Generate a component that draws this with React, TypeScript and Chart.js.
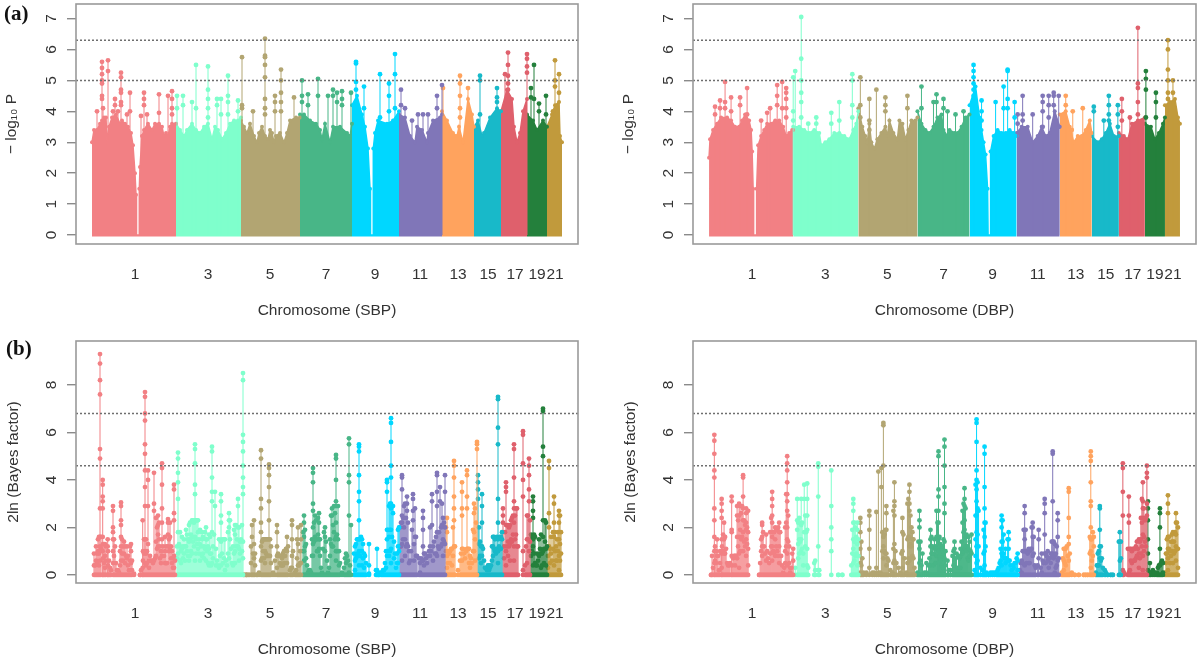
import React, { useEffect, useRef } from "react";
import { Chart, registerables } from "chart.js";

Chart.register(...registerables);

const chromColors = ["#F28084", "#7FFFCC", "#B2A572", "#48B687", "#00D7FF", "#8076B8", "#FFA35E", "#18B9C9", "#DF606C", "#24803C", "#C19A3C"];
const tickValues = [43, 116, 178, 234, 283, 328, 366, 396, 423, 445, 463];
const tickLabels = ["1", "3", "5", "7", "9", "11", "13", "15", "17", "19", "21"];
const pTicks = [0, 1, 2, 3, 4, 5, 6, 7];
const bfTicks = [0, 2, 4, 6, 8];
const pThresholds = [6.3, 5];
const bfThresholds = [6.8, 4.6];

const sbpPEnvelope = [
  [[0,3.0],[2,3.4],[5,3.4],[8,3.6],[10,3.7],[12,3.8],[14,3.8],[15,3.0],[17,3.5],[20,3.8],[24,3.9],[28,3.6],[30,3.7],[33,3.6],[36,3.5],[39,3.3],[41,2.9],[43,2.0],[44,1.3],[44.5,0],[47,0],[47.3,1.5],[48,2.2],[50,3.2],[52,3.4],[56,3.6],[60,3.4],[63,3.6],[67,3.6],[70,3.5],[72,3.2],[74,3.3],[76,3.2],[78,3.5],[80,3.6],[84,3.6]],
  [[84,3.6],[88,3.4],[92,3.2],[95,3.4],[100,3.6],[104,3.4],[108,3.3],[112,3.5],[116,3.6],[120,3.1],[123,3.5],[126,3.4],[130,3.1],[134,3.3],[138,3.6],[142,3.7],[146,3.7],[149,3.8]],
  [[149,3.7],[152,3.5],[155,3.3],[158,3.6],[162,3.2],[165,3.0],[167,3.3],[170,3.5],[173,3.2],[176,3.1],[178,3.4],[180,3.3],[182,3.0],[184,3.2],[188,3.3],[192,3.0],[195,3.3],[198,3.7],[204,3.8],[208,3.8]],
  [[208,3.9],[212,3.9],[218,3.7],[224,3.6],[228,3.4],[230,3.1],[233,3.6],[238,3.0],[241,3.5],[248,3.5],[255,3.3],[258,3.2],[260,3.6]],
  [[260,4.2],[265,4.5],[270,3.9],[273,3.5],[276,2.8],[278,1.5],[278.5,0],[281,0],[281.3,2.8],[283,3.3],[286,3.7],[295,3.6],[301,3.7],[307,4.0]],
  [[307,3.9],[313,3.8],[318,3.2],[323,3.0],[325,3.5],[330,3.4],[335,3.0],[336,3.3],[341,3.7],[348,3.8],[350,3.9]],
  [[350,4.0],[355,3.7],[361,3.3],[365,3.2],[367,3.5],[371,3.0],[376,4.4],[380,3.9],[382,3.5]],
  [[382,3.5],[386,3.7],[390,3.2],[392,3.3],[398,3.8],[405,4.1],[409,4.0]],
  [[409,4.0],[415,4.7],[420,4.4],[422,3.5],[425,3.0],[428,3.3],[431,4.0],[435,4.4]],
  [[435,3.9],[441,3.7],[445,3.4],[451,3.7],[455,3.5]],
  [[455,3.5],[460,3.9],[463,4.2],[467,4.3],[468,3.2],[470,3.0]],
];

const dbpPEnvelope = [
  [[0,2.5],[1,3.1],[4,3.4],[8,3.6],[12,3.8],[18,3.8],[22,3.7],[26,3.5],[30,3.5],[33,3.7],[36,3.9],[40,3.7],[42,3.4],[43,2.7],[44,1.5],[44.5,0],[47,0],[47.5,1.5],[49,2.9],[52,3.2],[55,3.4],[58,3.6],[62,3.6],[66,3.7],[70,3.7],[74,3.5],[77,3.2],[80,3.3],[83,3.4],[84,3.4]],
  [[84,3.5],[90,3.5],[95,3.4],[100,3.3],[105,3.4],[110,3.3],[112,2.9],[116,3.0],[120,3.1],[125,3.3],[130,3.3],[135,3.2],[140,3.1],[144,3.4],[147,3.6],[149,4.0]],
  [[149,4.1],[153,3.5],[156,3.2],[158,3.0],[160,3.6],[162,3.0],[165,2.8],[168,3.1],[172,3.3],[176,3.5],[178,3.2],[180,3.7],[184,3.3],[188,3.1],[190,3.7],[193,3.6],[196,3.1],[199,3.4],[202,3.7],[206,3.7],[208,3.8]],
  [[208,4.0],[212,3.6],[216,3.4],[220,3.3],[224,3.5],[228,3.8],[232,3.9],[234,3.4],[238,3.2],[240,3.4],[245,3.3],[248,3.3],[252,3.5],[256,3.8],[260,3.9]],
  [[260,4.2],[266,4.8],[270,3.8],[272,3.4],[274,3.0],[276,2.6],[278,1.5],[278.5,0],[280.5,0],[281,2.7],[284,3.2],[288,3.4],[292,3.3],[296,3.3],[300,3.4],[304,3.3],[307,3.2]],
  [[307,3.3],[312,3.5],[318,3.5],[323,3.0],[328,3.2],[332,3.5],[336,3.2],[340,3.3],[345,4.0],[350,3.5]],
  [[350,3.9],[356,4.0],[360,3.5],[364,3.0],[368,3.2],[372,3.2],[376,3.4],[380,3.7],[382,3.3]],
  [[382,3.2],[388,3.0],[392,3.1],[396,3.3],[400,3.6],[404,3.2],[409,3.2]],
  [[409,3.3],[414,3.2],[418,3.1],[422,3.6],[428,3.7],[435,3.8]],
  [[435,3.6],[441,3.5],[445,3.1],[449,3.3],[453,3.6],[455,3.8]],
  [[455,4.2],[460,4.3],[465,4.4],[468,3.8],[470,3.6]],
];

const noEnvelope = [];
const noStems = chromColors.map(() => []);

const sbpPStems = [
  [[5,4.0],[10,5.6,5.4,5.2,5.0,4.9,4.5,4.4],[11,4.1],[16,5.65,5.3],[21,4.0],[23,4.4,4.2],[26,4.0],[29,5.25,5.1,4.7,4.6,4.3,4.2],[35,3.9],[38,4.6,4.0],[49,3.85],[52,4.6,4.4,4.2],[55,3.9],[67,4.55,3.95],[76,4.5],[80,4.65,4.4,4.1,3.9]],
  [[85,4.5,4.1],[91,4.5,4.2],[100,4.3],[104,5.5,4.1],[116,5.45,4.7,4.4,4.1,3.8],[125,4.4,4.2],[129,4.4,3.9],[136,5.15,4.5,4.3,3.9],[146,4.35,4.0]],
  [[150,5.75,4.2,4.1],[161,4.0],[173,6.35,5.8,5.75,5.5,5.1,4.4,4.1,3.9],[183,4.5,4.3,4.0],[189,5.35,5.0,4.6,4.3,4.0],[202,4.45]],
  [[210,5.0,4.5,4.3],[216,4.55,4.2],[226,5.05,4.5],[236,4.5],[241,4.7,4.5],[245,4.6,4.3],[250,4.65,4.4,4.2],[259,4.6]],
  [[264,5.6,5.55,4.95,4.7],[272,4.8,4.1],[288,5.2,3.8],[297,4.9,4.5,4.0],[303,5.85,5.2,4.1]],
  [[309,4.7,4.2],[313,4.1],[320,3.7],[326,3.9],[331,3.9],[336,3.9],[345,4.5,4.1],[350,4.85]],
  [[351,4.75],[368,5.15,4.9,4.5,4.1,3.8],[376,4.75]],
  [[388,5.15,5.0,3.9],[405,4.75,4.45,4.3]],
  [[413,5.2],[416,5.9,5.5,5.15,4.9,4.7,4.5],[435,5.85,5.7,5.45,5.25]],
  [[439,4.75,4.45],[442,5.5,4.4],[447,4.25,4.0],[454,4.5,3.9]],
  [[461,4.0],[463,5.65,5.0,4.8],[467,5.2,4.6]],
];

const dbpPStems = [
  [[6,4.15,3.9],[11,4.35,4.1],[16,4.95,4.3,4.1],[22,4.45,4.0],[31,4.45,4.2],[38,4.75,3.9],[52,3.7],[58,3.95],[61,4.1],[68,4.85,4.5,4.2],[73,4.95,4.1],[77,4.75,4.6,4.4,4.1,3.8]],
  [[84,5.1,4.0,3.7],[86,5.3],[92,7.05,5.7,5.0,4.6,4.3,3.8],[99,3.6],[107,3.8,3.6],[122,3.95,3.6],[130,4.3,3.7],[143,5.2,5.0,4.2,3.8]],
  [[151,5.1,4.2,3.8],[160,4.4,3.7,3.4],[167,4.7],[176,4.45,4.2,4.0],[198,4.5,4.1]],
  [[212,4.8,4.1],[224,4.3],[227,4.55,4.3],[234,4.4,4.1],[238,4.0],[246,3.9],[254,4.0]],
  [[264,5.5,5.3,5.1,4.9,4.7,4.5,4.3],[272,4.35,4.0,3.7],[286,4.3],[294,4.8,4.1],[298,5.35,5.3,4.4,4.1],[305,4.3,3.8]],
  [[308,3.9,3.6],[313,4.5,3.9,3.7],[323,3.9],[333,4.5,4.3,4.0,3.5],[339,4.5,4.2,3.8],[344,4.6,4.5,4.2],[349,4.5,3.5]],
  [[356,4.5,4.2],[362,3.4],[363,4.0],[373,4.1]],
  [[384,4.15,4.0],[394,3.7],[399,4.5,4.2,3.9,3.7],[408,4.2,3.9,3.5]],
  [[412,4.4,4.0,3.7],[420,3.8],[428,6.7,4.9,4.75,4.3,3.9]],
  [[436,5.3,5.05,4.7,3.8],[446,4.6,4.3,3.8]],
  [[458,6.3,6.0,5.35,5.0,4.6,4.4],[463,5.0,4.6]],
];

const sbpBfStems = [
  [[2,0.9,0.4],[4,1.2,0.6],[6,1.5,1.0],[8,9.3,8.9,8.2,7.6,5.3,4.9,2.8,1.6,1.2,0.6],[10.7,4.0,3.8,3.3,3.1,2.8,1.6,1.0],[13,1.3,0.8,0.3],[15.7,1.5,1.2],[18,0.3],[21,2.9,2.7,2.0,1.8,1.5,1.0,0.5],[23,1.2],[25,0.2],[27,0.1],[29,3.05,2.9,2.3,2.1,1.6,1.2,0.6],[32,1.4,0.9],[35,1.2,0.7],[37,0.2],[39,1.3,1.0,0.5],[42,0.05],[48,0],[50.7,2.3,0.3],[53,7.7,7.5,6.8,6.5,5.5,5.1,4.4,3.7,2.9,1.5,1.0,0.5],[56,4.4,4.0,2.9,1.3],[59,0.6],[62,4.3,3.0,2.7,0.6],[66,2.5,2.1,1.7,1.2],[70,4.7,4.5,3.8,2.8,2.2,1.5,0.8],[73,1.6,1.0,0.5],[76,2.35,2.2,1.7,1.2],[80,1.0,0.5],[82,3.8,3.6,2.6,2.3,0.8,0.3]],
  [[86,5.15,4.9,4.3,3.9,3.2,1.8,0.9],[88,1.8,1.2,0.6],[91,1.2,0.7],[95,1.7,1.0],[97,2.1,1.4,0.6],[100,2.3,1.6,0.9],[103,5.5,5.3,4.7,3.8,3.4,2.3,1.6,0.6],[106,2.3,1.8,1.1],[110,1.8,1.5,0.8],[114,2.0,1.5,0.6],[117,1.7,1.1,0.4],[120,5.4,5.2,4.1,3.5,3.1,1.8,0.5],[123,3.5,2.9],[126,0.4],[129,3.4,3.1,2.5,2.2,1.4,0.4],[133,1.5,0.2],[137,2.6,2.3,2.0,0.7],[140,0.5],[143,2.1,1.7,1.0,0.5],[146,3.2,2.9,2.0,1.2],[149,1.5],[151,8.5,8.2,5.9,5.6,5.2,4.6,4.1,3.7,3.4,1.4,0.7]],
  [[154,0],[157,0],[160,2.1,1.6],[162,2.3,1.3,0.7],[165,0],[169,5.25,4.9,3.2,2.8,2.2,1.8,1.2,0.6],[173,1.5,1.0,0.5],[175,1.5,0.8],[177,4.65,4.5,4.2,3.7,3.1,2.3,1.5,0.8],[181,0.1],[185,2.1,1.8,1.2,0.8,0.3],[188,0.5],[190,0.7,0.4],[193,0.8],[195,1.6,1.0,0.5],[198,0.2],[200,2.3,2.1,1.5,0.8,0.3],[203,0.1],[206,2.0,1.3,0.4],[209,2.1,1.5,0.5]],
  [[212,2.5,2.2,1.6,1.0,0.6],[216,0.1],[219,0.1],[221,4.5,4.3,3.9,3.0,2.7,2.0,1.3,0.8],[225,1.5,1.0],[227,2.6,2.2,1.5,1.1],[230,0.1],[233,2.0,1.6,1.0],[236,0.1],[240,2.8,2.5,1.2],[244,5.05,4.9,4.0,3.1,2.9,2.2,1.6,1.0,0.6],[246,2.9,1.5],[250,0.1],[254,0.9,0.5],[257,5.75,5.5,4.2,3.9,2.5,0.1],[259,2.1]],
  [[263,1.2,0.6,0.2],[265,1.5,0.8],[267,5.5,5.4,5.2,4.2,3.5,3.1,2.3,1.5,1.0,0.4],[270,1.5,1.0,0.4],[273,0.8],[277,1.3,0.4,0.05],[285,1.1,0.2],[287,0],[290,0.1],[292,0.2],[294,1.0,0.3],[295,4.0,3.9,3.5,1.9,1.5,0.8],[299,6.6,6.4,5.6,4.6,4.1,3.0,2.8,1.9,1.1,0.5],[301,2.9,2.6],[304,0.3],[306,1.9,1.2,0.5]],
  [[310,4.2,4.1,3.6,2.5,2.2,1.3,0.6],[315,3.3,3.0,2.7,1.3],[318,0.6],[321,3.4,3.2,2.7,2.3],[324,1.6,0.8],[328,0.5,0.1],[331,2.7,2.4,1.9,1.2,0.6],[335,0.5],[338,2.0,1.2,0.8],[340,3.4,3.1,2.1],[343,0.9],[345,4.3,4.2,3.5,2.9,1.8,0.8],[348,3.7,3.1],[353,4.2,3.5,2.0,1.3]],
  [[355,2.4,1.8,0.8,0.3],[358,1.0,0.5],[362,4.8,4.6,4.1,3.3,2.8,2.3,1.2],[366,0.2],[370,3.9,3.5,2.8,2.5,1.1,0.6],[375,4.4,4.2,3.3,2.8,1.1],[378,0.8,0.3],[382,3.0,2.6,1.8,1.0],[385,5.6,5.5,5.3]],
  [[386,4.2,3.9,3.6,3.2],[390,3.4,2.9,2.2,1.2,0.8],[393,0.3],[397,0.4,0.2],[401,1.6,1.2,0.8],[404,0.9],[406,7.5,7.4,6.2,5.5,3.2,2.2,1.5,1.0,0.5],[410,1.8,1.5]],
  [[411,2.8,2.5,2.2],[414,3.9,3.7,3.5,2.1,1.0,0.4],[418,2.1,1.3,0.6],[422,5.5,5.3,4.1,3.1,2.8,2.2,1.2,0.6],[426,1.2],[431,6.05,5.9,4.7,4.0,3.3,1.0,0.2],[435,2.5,1.5,0.5],[437,4.9,4.6,4.2,3.6,3.1,1.0]],
  [[441,3.3,3.1,2.7,2.4,1.5,1.2,0.4],[445,0.9,0.4],[449,1.7,0.9,0.3],[451,7.0,6.9,5.4,5.0,2.3,1.6,1.0],[454,2.2,1.1,0.4]],
  [[457,4.8,4.5,2.6,2.0,1.2],[460,0.6],[462,3.3,3.0,2.2,1.6,0.4],[465,1.5,0.6],[467,2.7,2.5,2.2,1.5,0.8,0.2]],
];

const sbpBfLowStems = [
  [[3,0.4],[5,0.9,0.5],[7,1.6,0.9,0.4],[9,1.6,1.1],[11,1.3,0.7],[12,1.3,0.5],[14,1.2,0.6],[16,1.0,0.4],[17,0.6],[19,0.2],[22,1.5,0.8],[24,0.5],[26,0.2],[28,1.0,0.4],[30,1.5,0.9],[31,1.2,0.6],[33,1.2,0.5],[34,0.8],[36,0.8,0.4],[38,1.2,0.6],[40,0.6,0.2],[49,0.2],[51,1.0,0.6],[52,1.5,0.9],[54,1.5,0.9,0.4],[55,1.0,0.5],[57,0.6,0.3],[58,0.8],[60,0.6],[61,0.5],[63,0.7],[64,2.4,1.4,0.8],[65,2.0,1.1],[67,2.2,1.5],[68,1.2,0.7],[69,1.0,0.5],[71,1.2],[72,0.8],[74,1.2,0.5],[75,0.5],[77,1.5,1.0],[78,2.2,1.6,1.1],[79,1.2,0.7],[81,0.7,0.3],[83,0.6]],
  [[85,1.2,0.7],[87,1.3],[89,1.0,0.5],[90,1.6,1.1],[92,1.5,0.9],[93,1.2,0.6],[94,1.9,1.2],[96,1.5,0.8],[98,2.2,1.5,0.8],[99,1.7,1.0],[101,2.3,1.4],[102,2.2,1.2],[104,2.3,1.5,0.9],[105,2.3,1.3],[107,1.5,0.9],[108,1.9,1.3,0.6],[109,1.2],[111,1.6,0.9],[112,1.2,0.7],[113,1.8,1.1],[115,1.5,1.0],[116,1.2,0.5],[118,1.6,0.9],[119,0.9,0.4],[121,1.2,0.7],[122,1.7],[124,1.1,0.4],[125,0.6],[127,1.5,0.3],[128,0.8],[130,1.5,0.9],[131,0.5],[132,1.5,0.7],[134,0.6],[135,0.4],[136,1.8,0.9],[138,2.3,1.5],[139,1.1],[141,1.2,0.4],[142,1.9,0.9],[144,2.1,1.2],[145,1.5],[147,2.0,1.1,0.6],[148,1.4,0.9],[150,2.1,1.0]],
  [[152,0],[155,0],[159,1.2,0.5],[161,0.9],[163,0.9,0.4],[167,0.1],[170,1.4,0.7],[171,1.5,1.0],[172,1.5,0.7],[174,1.5,0.9],[176,1.5,0.8],[178,1.5,0.8],[179,1.2,0.5],[183,0.6],[186,0.9],[187,0.8],[189,0.8,0.4],[191,0.9,0.4],[192,1.0,0.5],[194,1.1],[196,1.2],[199,0.3],[201,1.0],[204,0.2],[205,1.5,0.7],[207,0.4],[208,1.0,0.5]],
  [[211,1.8,1.0],[213,1.9,1.2],[214,1.3,0.7],[215,0.4],[217,0.2],[218,0.2],[220,1.5,0.8],[222,2.2,1.4],[223,2.5,1.6],[224,2.3,1.5],[226,2.4,1.7,1.0],[228,1.5,0.8],[229,0.3],[231,1.1],[232,1.8],[234,1.4],[235,0.6],[237,0.3],[238,1.5,0.8],[239,2.5,1.3],[241,2.1,1.2],[242,2.9,1.8],[243,2.6,1.5],[245,1.7,1.0],[247,1.0,0.4],[248,0.5],[252,0.3],[253,0.7],[255,0.8],[256,0.6],[258,0.4]],
  [[262,0.9],[264,1.3,0.7],[266,1.5,0.9],[268,1.5,0.8],[269,1.6,1.0],[271,1.3,0.7],[272,0.9,0.3],[274,0.5],[284,0.2],[286,0.1],[289,0.1],[291,0.2],[293,0.5],[296,1.9,1.0],[297,2.9,1.6,0.8],[298,3.0,1.9,1.0],[300,2.9,1.6],[302,1.4,0.7],[303,0.9],[305,0.9,0.5],[307,2.0,1.0]],
  [[308,2.0,1.2],[309,2.2,1.2],[311,2.4,1.5],[312,2.9,2.0],[313,3.0,1.5,0.8],[314,2.4,1.2],[316,2.2,1.2],[317,1.0,0.5],[319,1.0],[320,1.9],[322,1.3,0.6],[323,2.8,1.6],[325,0.8],[327,0.7],[329,0.7],[330,0.6],[332,0.9,0.4],[333,0.9],[334,0.7],[336,0.8],[337,1.0],[339,1.0],[341,1.2,0.6],[342,1.4],[344,1.6,0.9],[346,1.8,1.2],[347,1.8,1.1],[349,2.0,1.2],[350,3.0,2.1,1.3],[351,2.4,1.5,0.8],[352,2.2,1.4]],
  [[354,2.0,1.0],[356,1.0,0.5],[357,0.9],[359,1.1],[360,1.1,0.4],[361,2.0,0.8],[363,1.2],[368,0.6],[369,0.9],[371,1.1],[372,0.9],[373,0.7],[374,1.0],[376,1.1],[377,1.1,0.5],[379,0.7],[380,0.5],[381,1.9,1.0],[383,2.8,1.5,0.6],[384,2.2]],
  [[387,2.0,1.3,0.7],[388,1.4,0.8],[389,1.2,0.5],[391,1.1],[392,0.6],[394,0.3],[395,0.2],[396,0.4],[398,0.3],[399,0.4],[400,1.2,0.6],[402,1.6,1.1],[403,1.5,1.0],[405,1.6,1.1],[407,1.2],[408,1.6,1.1],[409,1.6,1.1]],
  [[412,1.2,0.7],[413,1.8],[415,2.1,1.2],[416,2.1,1.4,0.8],[417,2.0,1.2],[419,2.3,1.5],[420,2.4,1.4],[421,2.5,1.7],[423,2.5,1.5],[424,2.8,1.7],[425,2.8,1.2],[433,0.4],[434,1.2],[436,2.5,1.5],[438,2.3,1.4]],
  [[439,1.7,0.8],[440,1.6,1.0],[442,1.7,0.9],[443,1.6,0.5],[444,0.4],[446,0.6],[447,1.5,0.8],[448,1.1],[450,0.9,0.4],[452,1.1,0.5],[453,2.3,1.4],[455,1.2]],
  [[456,0.8,0.3],[458,1.1,0.5],[459,1.6,0.9],[461,1.8,1.1],[463,1.8,1.0],[464,1.2,0.6],[466,1.8,1.0],[468,2.5,1.3,0.6],[469,1.8,0.9]],
];

const dbpBfStems = [
  [[2,0],[5.3,5.9,5.65,5.1,4.4,4.1,2.8,2.3,1.6,1.0,0.5],[8,1.5,0.8],[10,0.2],[12.6,3.2,3.0,2.7,2.4,1.5,0.9,0.3],[15,2.2,1.5,0.9],[19,0.4],[22.6,3.3,3.1,1.9,1.8,0.8],[26,0.8,0.4],[30,3.0,2.5,1.6,0.9,0.3],[34,4.2,4.1,3.3,2.8,2.3,1.8,1.0],[37,2.8,2.6,2.2,1.9,1.5,0.8],[39,2.7,1.8,1.1,0.4],[50,0],[53,2.2,2.1,1.6,1.2,0.8],[57,1.7,0.6],[60,0.5],[63,3.5,3.2,2.9,2.5,2.2,1.6,1.2,0.6],[66,2.0,1.5,0.8],[70,2.2,1.8,1.2,0.5],[74,0.1],[78,5.0,4.7,4.4,3.9,3.4,3.1,2.7,2.0,1.5,0.9,0.4],[81,0.3,0.1],[84,1.1,0.6]],
  [[88,3.2,2.3,1.9],[92,3.2,2.1,1.5,1.0],[95,3.8,3.2,1.8],[98,3.85,3.2,2.5,1.9,1.1,0.4],[106,0.6,0.2],[109,4.7,4.55,3.3,1.2,0.2],[122,4.4,2.9,2.0,1.5,1.0],[129,0],[133,0],[144,3.2,3.0,2.7,2.2,1.5,1.1,0.5],[146,2.0,0.8],[148,2.2,1.9,1.3,0.8,0.4]],
  [[151,2.4,2.2,1.8,1.1,0.5,0.1],[153,0.7],[160,2.7,2.5,1.9,1.1,0.3],[167,2.65,0.3],[169,4.35,0.1],[172,4.5,3.7],[174,6.4,6.3,4.6,1.6,1.2,0.7],[177,2.9,2.6,1.9,0.9,0.4],[181,0.2],[185,3.9,3.1,2.9,2.5,1.3,0.6],[189,0.3],[193,2.4,1.8,1.0,0.3],[197,0.1],[200,3.8,3.5,3.0,2.7,1.6,1.2,0.6],[203,1.8,1.5,0.8]],
  [[210,2.7,2.3,2.0,1.1,0.5],[213,0.9],[217,0.5,0.1],[221,1.9,1.5,1.2,0.4],[225,1.5,1.1],[229,5.2,5.0,3.6,3.3,2.7,2.2,1.5,1.0],[233,1.2,0.8,0.3],[235,5.7,5.4,4.6,3.7,3.0,2.6,1.4,0.7],[238,0.6],[241,0.2],[245,1.4,1.1],[248,0.3],[251,1.1,0.8,0.3],[255,3.65,3.2,2.9,2.3,1.9,1.1],[259,1.6,1.1,0.6],[262,1.7,0.9]],
  [[267,6.55,6.4,5.6,4.4,4.0,3.6,3.1,2.5,1.8,1.2,0.5],[271,0.3],[275,5.4,5.1,3.7,2.8,2.2,1.6,1.0,0.4],[279,0],[288,0.2],[292,2.5,2.3,2.0,1.4,0.9,0.4],[296,1.1,0.5],[299,1.8,1.5,1.1,0.6],[302,0.2],[304,0.3],[306,0.5],[308,0.9,0.6,0.2]],
  [[312,0.6,0.1],[315,2.9,2.6,1.9,1.5,1.0,0.4],[319,1.1,0.5],[323,2.2,2.0,1.6,0.8],[326,0.3],[329,1.9,1.5,0.7],[332,0.9,0.1],[335,3.2,3.0,2.6,1.7,0.9],[339,0.7,0.3],[343,5.2,5.1,3.1,1.4,0.9],[345,1.3,0.8,0.1],[348,2.6,2.3,1.6,0.6]],
  [[354,1.1,0.6,0.2],[359,3.65,3.5,2.4,1.6,1.3,0.6],[365,0],[374,0],[378,0],[381,5.2,5.0,4.8,3.9,3.1,2.9,2.0,1.5,1.0,0.3],[384,1.6,1.2]],
  [[388,0.9,0.4],[390,2.9,2.8,1.9,1.2,0.7],[393,0.3],[398,0],[401,0],[403,0],[410,1.8,1.4,0.6]],
  [[413,4.7,4.5,3.5,2.5,0.2],[419,3.3,2.5,2.2,0.1],[424,1.1,0.6],[429,1.5,0.9,0.3],[433,3.9,3.1,2.8,2.4,1.7,0.8,0.2],[437,4.6,4.3,4.1,3.0,2.5]],
  [[438,3.1,2.8,2.3,1.5,0.9,0.2],[440,0.5,0.1],[447,0.1],[450,2.8,2.6,2.0,1.1,0.4],[453,0.5,0.1]],
  [[458,3.35,3.0,2.6,1.6,1.1,0.7,0.2],[463,1.8,1.4,0.5],[466,2.6,2.2,1.7,1.2,0.6],[468,2.0,1.1,0.3]],
];

const dbpBfLowStems = [
  [[3,0.8],[4,0.3],[6,1.2,0.6],[7,1.0,0.5],[9,0.8],[11,1.0,0.5],[13,1.2],[14,1.7,1.0],[16,1.6,0.9],[17,1.1],[18,0.5],[20,0.4],[21,0.5],[23,0.4],[24,0.7],[25,0.8],[27,0.8],[28,2.9,2.5,1.6,0.7],[29,2.3,1.2],[31,2.9,1.9,1.0],[32,2.6,1.5],[33,2.9,1.6],[35,2.3,1.4],[36,2.1,1.2],[38,2.0,1.3],[51,0.5],[52,1.5,1.0],[54,1.8],[55,1.2],[56,0.9],[58,1.0],[59,0.7],[61,1.8,0.9],[62,2.4,1.2],[64,1.8,1.0],[65,1.8,0.9],[67,1.9,1.2],[68,1.9,1.0],[69,2.0,0.8],[71,1.8],[72,0.8],[73,0.4],[75,0.3],[76,2.0,1.0,0.5],[77,3.4,2.2,1.2],[79,2.5,1.4],[80,1.2,0.5],[82,0.3],[83,0.9]],
  [[86,0.3],[89,2.2,1.3,0.7],[90,2.4,1.5,0.9],[91,2.2,1.4],[93,2.2,1.1],[94,0.9,0.4],[96,2.5,1.2],[97,1.8],[99,0.3],[105,0.5],[110,0.2],[142,0.4],[143,1.9,0.9],[145,2.2,1.4,0.6],[147,1.6,0.9],[149,1.5,0.8]],
  [[152,1.4,0.4],[154,0.1],[157,0.1],[163,0.1],[165,0.1],[171,0.1],[173,1.8,1.0],[175,1.7,1.0],[176,1.9,0.9],[178,0.7],[179,0.6],[183,0.1],[184,2.7,1.1,0.5],[186,1.0],[187,0.5],[191,0.1],[192,0.9],[194,1.7],[195,0.7],[198,3.0,1.5,0.5],[199,3.2,1.6,0.7],[201,2.5,1.3],[202,2.0,1.2],[204,1.5,0.7],[205,0.3]],
  [[208,0.1],[209,1.4],[211,1.4,0.6],[212,0.4],[215,0.1],[219,0.4],[220,0.7],[222,1.6,0.9],[223,1.2],[224,0.9,0.4],[226,1.2,0.5],[227,2.7,1.6,0.8],[228,2.2,1.1],[230,1.6,0.8],[231,1.3,0.6],[232,1.1,0.4],[234,1.5,0.9],[236,1.0,0.4],[239,0.2],[243,0.8],[244,1.0,0.4],[246,0.7],[247,0.9],[249,0.8],[250,0.7],[252,1.4],[253,2.7,2.2,0.9],[254,3.0,1.8,1.0],[256,2.8,1.6,1.2],[257,1.7,1.0],[258,1.2,0.7],[260,1.4,0.8],[261,1.0]],
  [[265,0.2],[266,3.8,2.5,1.5,0.8],[268,3.9,2.8,1.7,0.6],[269,2.7,1.2],[273,0.2],[274,1.9,0.9],[276,2.2,1.2],[277,0.1],[281,0.1],[283,0.1],[285,0.1],[287,0.1],[289,0.3],[290,0.5],[291,1.1,0.6],[293,2.3,1.4,0.8],[294,1.7,0.9],[295,0.7],[297,0.7],[298,1.5,0.6],[300,0.6],[301,0.4],[303,0.4],[305,0.5],[307,0.7]],
  [[310,0.2],[311,0.5],[313,1.0,0.5],[314,1.9,1.0],[316,1.9,1.0],[317,1.0,0.5],[318,0.9],[320,1.0,0.5],[321,1.1],[322,2.0,1.1],[324,1.6,0.9],[325,0.4],[328,0.4],[331,0.3],[333,0.6],[334,0.5],[336,0.9,0.5],[337,0.8],[338,1.0,0.6],[340,0.7],[341,0.9,0.5],[342,1.4,0.8],[344,1.4,0.7],[346,0.9,0.3],[347,1.2,0.4],[349,0.7]],
  [[352,0.1],[353,0.7],[355,1.1,0.5],[356,1.1,0.4],[357,1.2],[358,0.8],[360,0.9],[362,0.1],[369,0],[376,0],[380,1.6,0.9],[382,1.5,0.6],[383,1.8,0.8]],
  [[386,0.1],[387,0.4],[389,1.0,0.4],[391,1.2,0.6],[392,0.7],[395,0.2],[396,0.1],[409,1.4],[411,1.4,0.7]],
  [[414,0.1],[418,1.1],[420,1.1,0.2],[421,1.1,0.6],[422,1.0,0.5],[423,1.1],[425,1.1,0.6],[426,1.2,0.7],[427,1.4,0.8],[428,1.1],[430,1.4,0.7],[431,2.4,1.5,0.9],[432,3.2,2.2,1.2],[434,2.8,1.6,1.0],[435,2.3,1.4],[436,2.4,1.2]],
  [[441,0.1],[443,0.2],[445,0.1],[448,0.3],[449,0.4],[451,0.5],[452,0.6]],
  [[455,0.1],[456,0.9,0.5],[457,1.5,0.9],[459,1.6,1.1],[460,1.0,0.5],[461,1.4,0.8],[462,1.7,1.0],[464,1.4,0.9],[465,1.8,1.0],[467,2.2,1.1]],
];

const boxPlugin = {
  id: "box",
  afterDraw(chart: any) {
    const { ctx, chartArea: a } = chart;
    ctx.save();
    ctx.strokeStyle = "#9a9a9a";
    ctx.lineWidth = 1.6;
    ctx.strokeRect(a.left, a.top, a.right - a.left, a.bottom - a.top);
    ctx.restore();
  },
};

function Panel({ left, top, height, padTop, padRight, yMin, yMax, yTicks, thresholds, envelope, stems, lowStems, yTitle, xTitle, titleOffset }: any) {
  const ref = useRef<HTMLCanvasElement>(null);
  useEffect(() => {
    const xMin = -16;
    const xMax = 486;
    const showBase = envelope.length === 0;
    const datasets: any[] = [];
    thresholds.forEach((t: number) =>
      datasets.push({
        data: [{ x: xMin, y: t }, { x: xMax, y: t }],
        borderColor: "#6e6e6e",
        borderWidth: 1.5,
        borderDash: [2, 2],
        pointRadius: 0,
        order: 0,
      })
    );
    stems.forEach((list: number[][], i: number) => {
      const data: any[] = [];
      [...list, ...lowStems[i]].sort((a, b) => a[0] - b[0]).forEach(([x, ...ys]) => {
        data.push({ x, y: 0 });
        [...ys].sort((a, b) => a - b).forEach((y) => data.push({ x, y }));
        data.push({ x, y: null });
      });
      datasets.push({
        data,
        borderColor: chromColors[i],
        backgroundColor: chromColors[i],
        borderWidth: 1,
        pointRadius: (c: any) => (!showBase && c.raw && c.raw.y === 0 ? 0 : 2.4),
        pointBorderWidth: 0,
        spanGaps: false,
        order: 1,
      });
    });
    envelope.forEach((list: number[][], i: number) =>
      datasets.push({
        data: list.map(([x, y]) => ({ x, y })),
        borderColor: chromColors[i],
        backgroundColor: chromColors[i],
        borderWidth: 1.5,
        pointRadius: (c: any) => (c.raw && c.raw.y === 0 ? 0 : 2),
        pointBorderWidth: 0,
        fill: { value: -0.05 },
        order: 2,
      })
    );
    const chart = new Chart(ref.current!, {
      type: "line",
      data: { datasets },
      plugins: [boxPlugin],
      options: {
        responsive: false,
        animation: false,
        layout: { padding: { top: padTop, right: padRight, left: 0, bottom: 0 } },
        plugins: { legend: { display: false }, tooltip: { enabled: false } },
        scales: {
          x: {
            type: "linear",
            min: xMin,
            max: xMax,
            afterBuildTicks: (s: any) => {
              s.ticks = tickValues.map((value) => ({ value }));
            },
            afterFit: (s: any) => {
              s.height = 77;
              s.paddingLeft = 0;
              s.paddingRight = 0;
            },
            grid: { display: false, drawTicks: false },
            border: { display: false },
            ticks: {
              padding: 21,
              autoSkip: false,
              maxRotation: 0,
              color: "#333",
              font: { family: "Liberation Sans", size: 15.5 },
              callback: (v: any) => {
                const i = tickValues.indexOf(Number(v));
                return i >= 0 ? tickLabels[i] : "";
              },
            },
            title: {
              display: true,
              text: xTitle,
              color: "#333",
              font: { family: "Liberation Sans", size: 15.5 },
              padding: { top: 0, bottom: 1 },
            },
          },
          y: {
            type: "linear",
            min: yMin,
            max: yMax,
            afterBuildTicks: (s: any) => {
              s.ticks = yTicks.map((value: number) => ({ value }));
            },
            afterFit: (s: any) => {
              s.width = 76;
              s.paddingTop = 0;
              s.paddingBottom = 0;
            },
            grid: { drawOnChartArea: false, drawTicks: true, tickLength: 9, tickColor: "#8a8a8a", lineWidth: 1.4 },
            border: { display: false },
            ticks: {
              padding: 11,
              minRotation: 90,
              maxRotation: 90,
              crossAlign: "center",
              color: "#333",
              font: { family: "Liberation Sans", size: 15.5 },
            },
            title: {
              display: true,
              text: yTitle,
              color: "#333",
              font: { family: "Liberation Sans", size: 15.5 },
              padding: { top: titleOffset, bottom: 0 },
            },
          },
        },
      } as any,
    } as any);
    return () => chart.destroy();
  }, []);
  return (
    <canvas
      ref={ref}
      width={583}
      height={height}
      style={{ position: "absolute", left, top, width: 583, height, display: "block", filter: "blur(0.4px)" }}
    />
  );
}

const labelStyle: any = {
  position: "absolute",
  fontFamily: "Liberation Serif",
  fontWeight: "bold",
  fontSize: 21,
  color: "#111",
  lineHeight: "24px",
};

export default function App() {
  return (
    <div style={{ position: "absolute", left: 0, top: 0, width: 1200, height: 660, background: "#fff", overflow: "hidden" }}>
      <Panel left={0} top={0} height={321} padTop={1} padRight={5} yMin={-0.29} yMax={7.47} yTicks={pTicks} thresholds={pThresholds} envelope={sbpPEnvelope} stems={sbpPStems} lowStems={noStems} yTitle={"\u2212 log\u2081\u2080 P"} xTitle="Chromosome (SBP)" titleOffset={2} />
      <Panel left={617} top={0} height={321} padTop={1} padRight={4} yMin={-0.29} yMax={7.47} yTicks={pTicks} thresholds={pThresholds} envelope={dbpPEnvelope} stems={dbpPStems} lowStems={noStems} yTitle={"\u2212 log\u2081\u2080 P"} xTitle="Chromosome (DBP)" titleOffset={2} />
      <Panel left={0} top={330} height={330} padTop={11} padRight={5} yMin={-0.34} yMax={9.85} yTicks={bfTicks} thresholds={bfThresholds} envelope={noEnvelope} stems={sbpBfStems} lowStems={sbpBfLowStems} yTitle="2ln (Bayes factor)" xTitle="Chromosome (SBP)" titleOffset={4} />
      <Panel left={617} top={330} height={330} padTop={11} padRight={4} yMin={-0.34} yMax={9.85} yTicks={bfTicks} thresholds={bfThresholds} envelope={noEnvelope} stems={dbpBfStems} lowStems={dbpBfLowStems} yTitle="2ln (Bayes factor)" xTitle="Chromosome (DBP)" titleOffset={4} />
      <div style={{ ...labelStyle, left: 4, top: 1 }}>(a)</div>
      <div style={{ ...labelStyle, left: 6, top: 336 }}>(b)</div>
    </div>
  );
}
